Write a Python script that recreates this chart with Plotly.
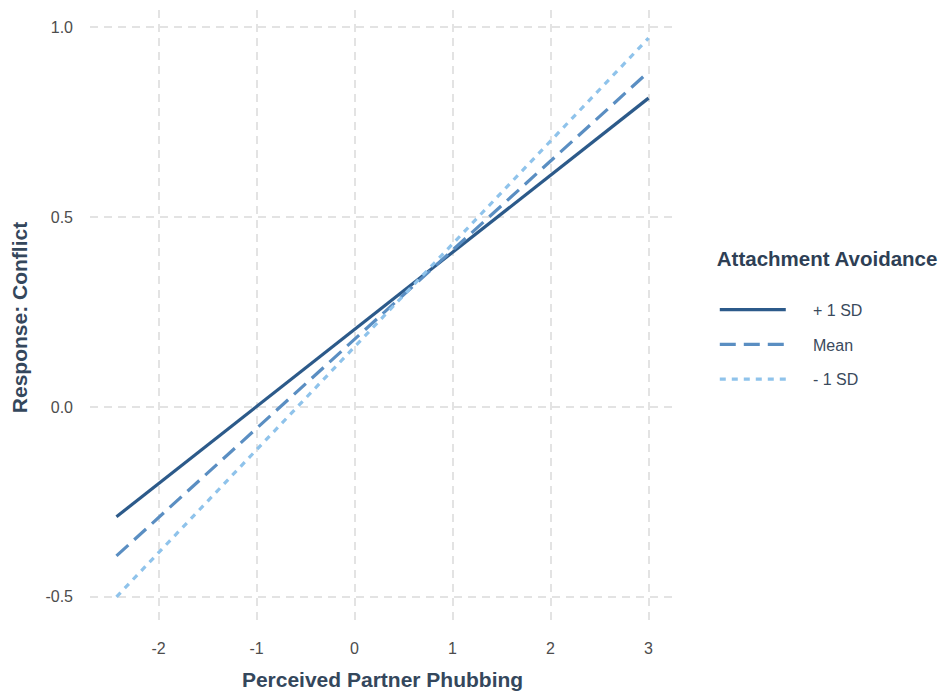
import plotly.graph_objects as go

x_vals = [-2.43, 3.0]
series_names = ["+ 1 SD", "Mean", "- 1 SD"]
y_plus = [-0.289, 0.813]
y_mean = [-0.392, 0.882]
y_minus = [-0.500, 0.971]
x_ticks = [-2, -1, 0, 1, 2, 3]
x_tick_labels = ["-2", "-1", "0", "1", "2", "3"]
y_ticks = [-0.5, 0.0, 0.5, 1.0]
y_tick_labels = ["-0.5", "0.0", "0.5", "1.0"]

colors = ["#2C5A8A", "#5A8EC2", "#8FC3EB"]
dashes = ["solid", "16px,8px", "6px,6px"]
pad = "\u00a0" * 5

fig = go.Figure()
for i, (name, ys, c, d) in enumerate(zip(series_names, [y_plus, y_mean, y_minus], colors, dashes)):
    fig.add_trace(go.Scatter(x=x_vals, y=ys, mode="lines", name=pad + name, legendgroup=f"g{i}",
                             line=dict(color=c, width=3.2, dash=d)))

font_family = "Liberation Sans, Arial, sans-serif"
fig.update_layout(
    width=942, height=684,
    margin=dict(l=82, r=275, t=2, b=67),
    plot_bgcolor="white", paper_bgcolor="white",
    font=dict(family=font_family, color="#4D4D4D", size=16),
    legend=dict(
        title=dict(text="<b>Attachment Avoidance</b><br>\u00a0", font=dict(size=20.5, color="#2E3F55")),
        x=1.068, xanchor="left", y=0.627, yanchor="top",
        font=dict(size=16, color="#3A4A5C"),
        itemwidth=66, tracegroupgap=11,
        bgcolor="rgba(0,0,0,0)",
    ),
    xaxis=dict(
        range=[-2.70, 3.27], tickvals=x_ticks, ticktext=x_tick_labels,
        showgrid=True, gridcolor="#E3E3E3", gridwidth=2, griddash="8px,6px",
        zeroline=False, showline=False, ticks="",
        ticklabelstandoff=12,
        tickfont=dict(size=16, color="#4D4D4D"),
        title=dict(text="<b>Perceived Partner Phubbing</b>", font=dict(size=21, color="#34475C"), standoff=16),
    ),
    yaxis=dict(
        range=[-0.574, 1.045], tickvals=y_ticks, ticktext=y_tick_labels,
        showgrid=True, gridcolor="#E3E3E3", gridwidth=2, griddash="8px,6px",
        zeroline=False, showline=False, ticks="",
        ticklabelstandoff=16,
        tickfont=dict(size=16, color="#4D4D4D"),
        title=dict(text="<b>Response: Conflict</b>", font=dict(size=21, color="#34475C"), standoff=15),
    ),
)

fig.write_html("out.html")
